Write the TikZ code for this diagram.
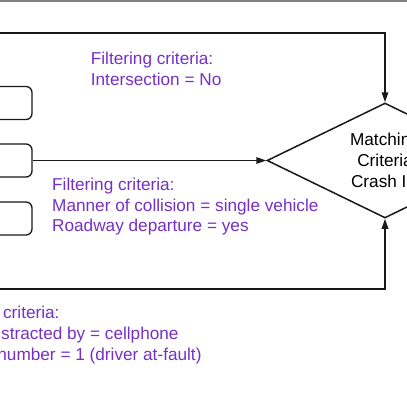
\documentclass[tikz,border=0pt]{standalone}
\usepackage{fontspec}
\setmainfont{Liberation Sans}
\usetikzlibrary{shapes.geometric,arrows.meta}
\definecolor{critc}{RGB}{118,48,196}
\begin{document}
\begin{tikzpicture}[x=1pt,y=-1pt,
  conn/.style={line width=1.5pt,draw=black!90,-{Triangle[length=10pt,width=6.5pt]}},
  srcbox/.style={draw=black!90,line width=1.3pt,rounded corners=6pt,minimum width=100pt,minimum height=33pt,inner sep=0pt},
  crit/.style={text=critc,font=\fontsize{17.2}{20.8}\selectfont,align=left,anchor=north west,inner sep=0pt},
  decision/.style={draw=black!90,diamond,line width=1.5pt,minimum width=236pt,minimum height=115pt,aspect=2.05,inner sep=0pt,align=center,font=\fontsize{17.2}{20.8}\selectfont}]
\useasboundingbox (0,0) rectangle (407,407);
\clip (0,0) rectangle (407,407);
\fill[gray] (0,0) rectangle (407,2);
\node[srcbox] (box1) at (-18,103) {};
\node[srcbox] (box2) at (-18,160.5) {};
\node[srcbox] (box3) at (-18,218.5) {};
\node[decision] (match) at (385,160.5) {Matching\\Criteria\\Crash ID};
\coordinate (topsrc) at (-2,33);
\coordinate (botsrc) at (-2,289);
\draw[conn] (topsrc) -| (match.north);
\draw[conn] (box2.east) -- (match.west);
\draw[conn,line width=1.8pt] (botsrc) -| (match.south);
\node[crit] (c1) at (90.7,51.7) {Filtering criteria:\\Intersection = No};
\node[crit] (c2) at (52,177.7) {Filtering criteria:\\Manner of collision = single vehicle\\Roadway departure = yes};
\node[crit] (c3) at (-63,306.2) {Filtering criteria:\\Driver distracted by = cellphone\\Vehicle number = 1 (driver at-fault)};
\end{tikzpicture}
\end{document}
